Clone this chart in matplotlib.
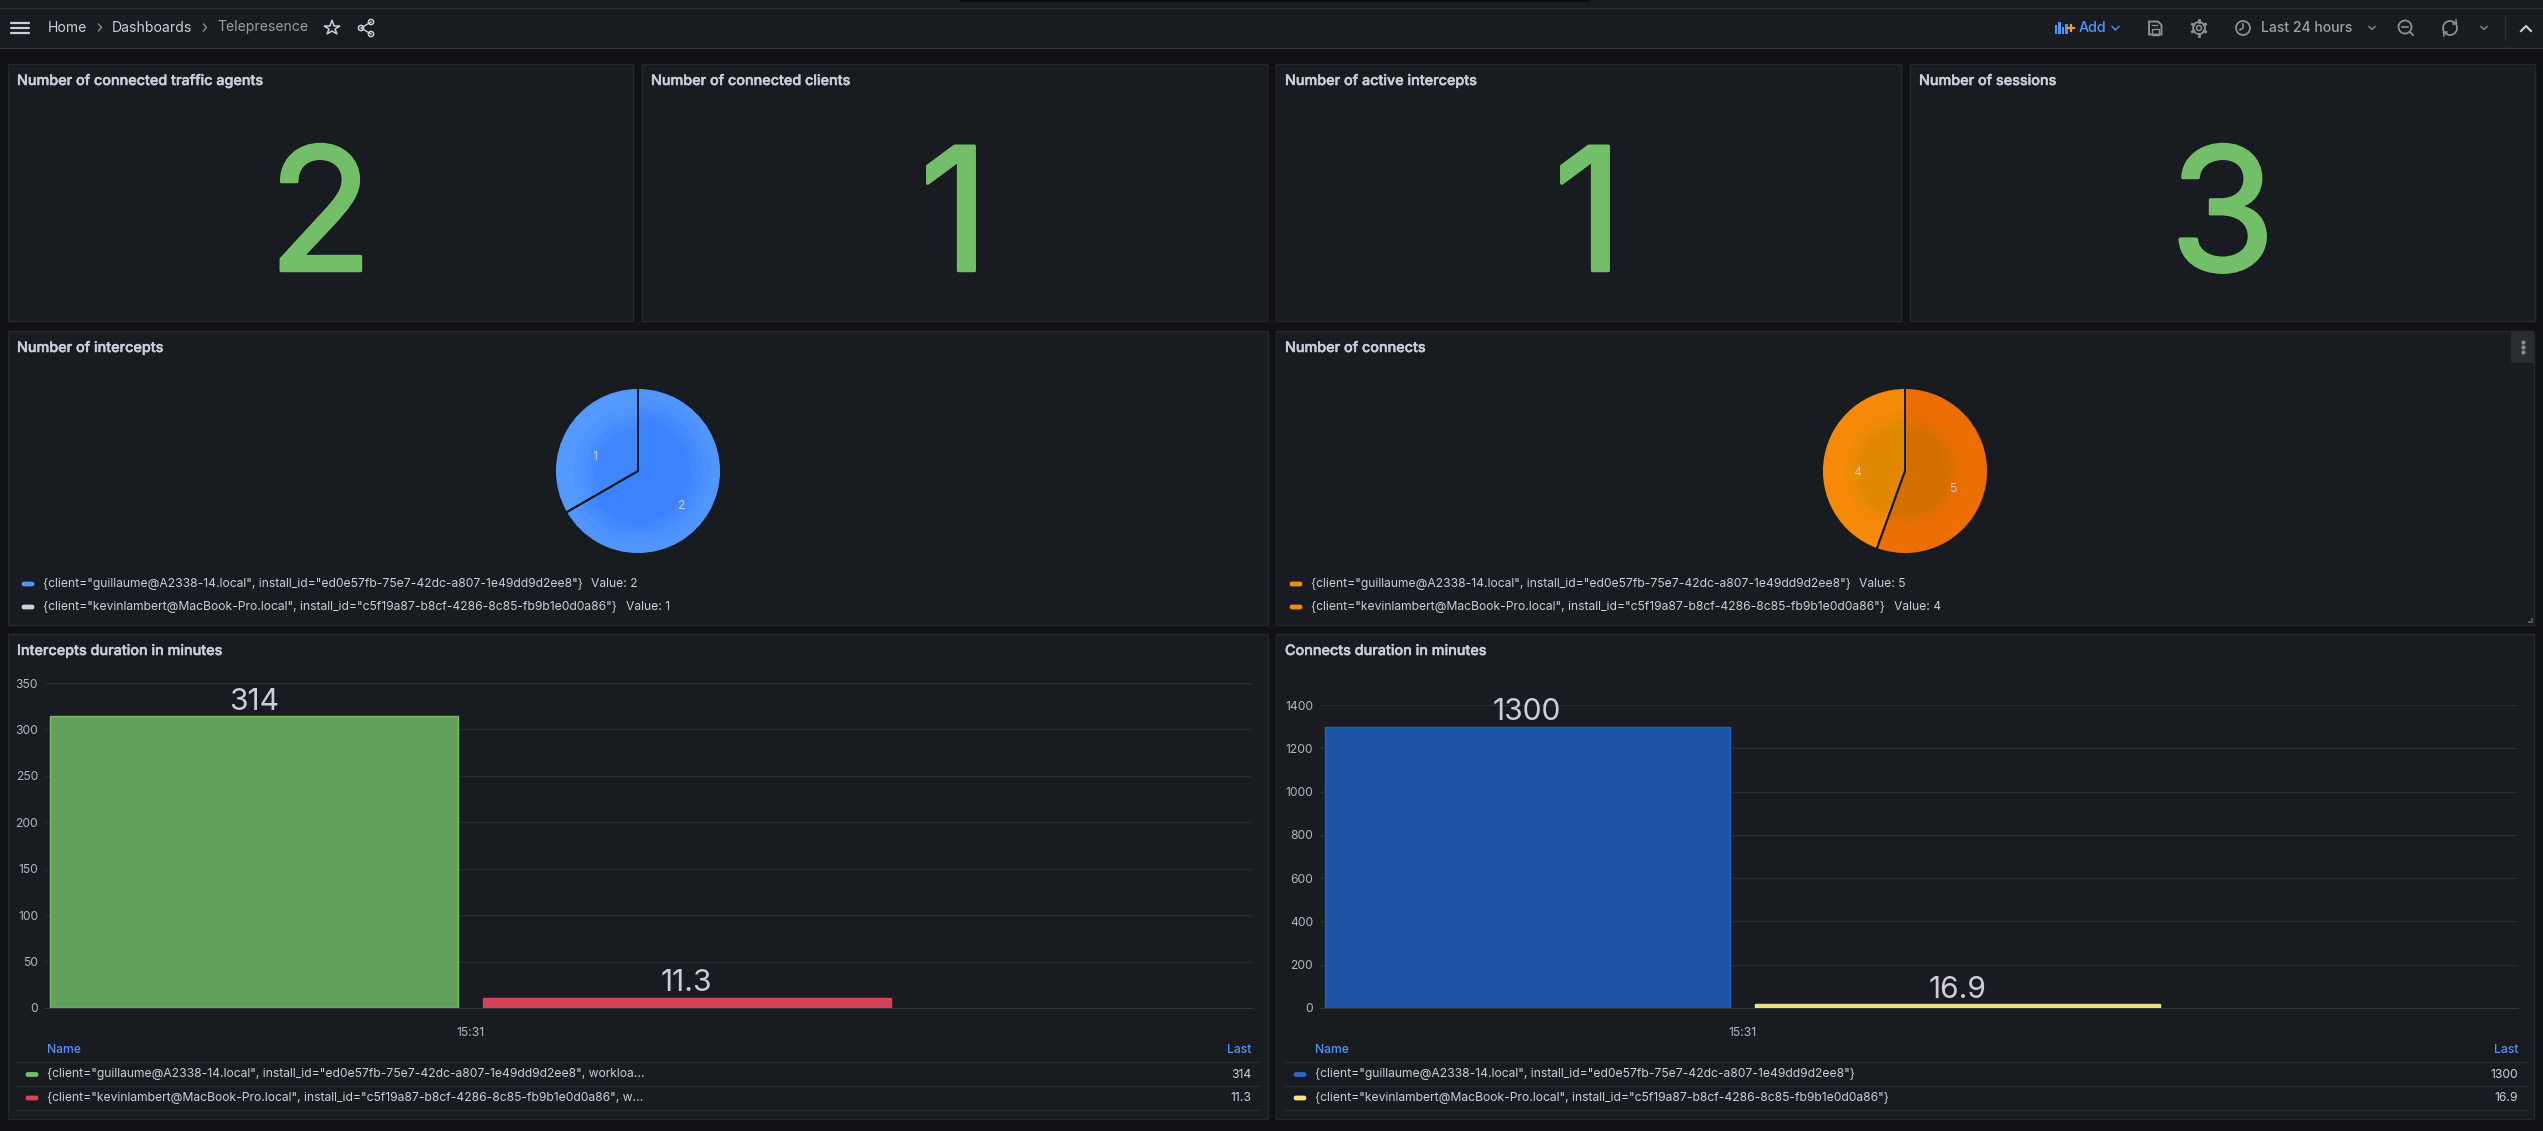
import numpy as np
import matplotlib
matplotlib.use("Agg")
import matplotlib.pyplot as plt
import matplotlib.patheffects as pe
from matplotlib.patches import Rectangle, FancyBboxPatch, Circle, Polygon, Arc

W, H = 2543, 1131
BG = "#111217"
PANEL = "#181B1F"
BORDER = "#25282E"
TEXT = "#CCCCDC"
DIM = "#B4B5C2"
GRID = "#282B31"
BLUE_TXT = "#4F94FF"
ICON = "#8E8F96"

plt.rcParams["font.family"] = ["Inter", "Noto Sans", "DejaVu Sans"]

# data
stat_titles = ["Number of connected traffic agents", "Number of connected clients",
               "Number of active intercepts", "Number of sessions"]
stat_values = [2, 1, 1, 3]

client_a = '{client="guillaume@A2338-14.local", install_id="ed0e57fb-75e7-42dc-a807-1e49dd9d2ee8"}'
client_b = '{client="kevinlambert@MacBook-Pro.local", install_id="c5f19a87-b8cf-4286-8c85-fb9b1e0d0a86"}'
client_a_wl = '{client="guillaume@A2338-14.local", install_id="ed0e57fb-75e7-42dc-a807-1e49dd9d2ee8", workloa...'
client_b_wl = '{client="kevinlambert@MacBook-Pro.local", install_id="c5f19a87-b8cf-4286-8c85-fb9b1e0d0a86", w...'

intercept_counts = [2, 1]
connect_counts = [5, 4]
intercept_minutes = [314, 11.3]
intercept_labels = ["314", "11.3"]
connect_minutes = [1300, 16.9]
connect_labels = ["1300", "16.9"]
intercept_ticks = [0, 50, 100, 150, 200, 250, 300, 350]
connect_ticks = [0, 200, 400, 600, 800, 1000, 1200, 1400]
time_label = "15:31"

fig = plt.figure(figsize=(W / 100, H / 100), dpi=100, facecolor=BG)

# overlay in pixel coords for the dashboard chrome
ui = fig.add_axes([0, 0, 1, 1], zorder=0)
ui.set_xlim(0, W); ui.set_ylim(H, 0); ui.axis("off")


def axes_px(x0, y0, x1, y1, zorder=2):
    return fig.add_axes([x0 / W, 1 - y1 / H, (x1 - x0) / W, (y1 - y0) / H], zorder=zorder)


def panel(x0, y0, x1, y1, title):
    ui.add_patch(Rectangle((x0, y0), x1 - x0, y1 - y0, fc=PANEL, ec=BORDER, lw=1))
    ui.text(x0 + 9, y0 + 17, title, color=TEXT, fontsize=10.35, weight="medium",
            ha="left", va="center",
            path_effects=[pe.withStroke(linewidth=0.35, foreground=TEXT)])


def swatch(x, y, color):
    ui.add_patch(FancyBboxPatch((x + 2, y - 1), 10, 2, boxstyle="round,pad=0,rounding_size=1",
                                fc=color, ec=color, lw=2))


# nav bar
ui.add_patch(Rectangle((0, 0), W, 48, fc=PANEL, ec="none"))
ui.add_patch(Rectangle((960, 0), 630, 2, fc="#0B0C0E", ec="none"))
ui.plot([0, W], [7.5, 7.5], color="#2A2D33", lw=1)
ui.plot([0, W], [48, 48], color="#34373D", lw=1)
for yy in (23, 28, 33):
    ui.plot([11, 29], [yy, yy], color=TEXT, lw=1.6, solid_capstyle="round")
nav_y = 27.5
ui.text(48, nav_y, "Home", color=TEXT, fontsize=10.1, va="center")
ui.text(112, nav_y, "Dashboards", color=TEXT, fontsize=10.1, va="center")
ui.text(217, nav_y, "Telepresence", color="#9A9BA5", fontsize=10.1, va="center")
for xx in (100, 205):
    ui.plot([xx - 1.5, xx + 1.5, xx - 1.5], [nav_y - 3.5, nav_y, nav_y + 3.5], color="#8E8F96", lw=1)
ui.plot([332], [28], marker="*", ms=11.5, mfc="none", mec=TEXT, mew=1.1)
# share icon
ui.plot([371, 361, 371], [22, 28, 34], color=TEXT, lw=1)
for cx, cy in ((371, 22), (361, 28), (371, 34)):
    ui.add_patch(Circle((cx, cy), 2.6, fc=PANEL, ec=TEXT, lw=1.1))

# right side of nav bar
for xx, hh in zip((2056, 2059.5, 2063, 2066.5), (9, 12, 7, 10)):
    ui.add_patch(Rectangle((xx - 1.2, 34 - hh), 2.4, hh, fc=BLUE_TXT, ec="none"))
ui.plot([2068, 2074], [28, 28], color="#FF9830", lw=1.6)
ui.plot([2071, 2071], [25, 31], color="#FF9830", lw=1.6)
ui.text(2079, nav_y, "Add", color=BLUE_TXT, fontsize=10.3, weight="medium", va="center")
ui.plot([2112, 2115.5, 2119], [26.5, 30, 26.5], color=BLUE_TXT, lw=1)
# save icon
ui.add_patch(Polygon([(2149, 21.5), (2158, 21.5), (2161.5, 25), (2161.5, 34.5), (2149, 34.5)],
                     closed=True, fc="none", ec=ICON, lw=1.4))
ui.add_patch(Rectangle((2152, 29), 6.5, 5.5, fc="none", ec=ICON, lw=1))
ui.plot([2152, 2157], [25, 25], color=ICON, lw=1)
# gear icon
ui.add_patch(Circle((2199, 28), 6, fc="none", ec=ICON, lw=1.3))
ui.add_patch(Circle((2199, 28), 2.5, fc="none", ec=ICON, lw=1.1))
for ang in np.deg2rad(np.arange(0, 360, 60) + 30):
    ui.plot([2199 + 6 * np.cos(ang), 2199 + 7.6 * np.cos(ang)],
            [28 + 6 * np.sin(ang), 28 + 7.6 * np.sin(ang)], color=ICON, lw=2)
# clock icon
ui.add_patch(Circle((2243, 28), 7, fc="none", ec=ICON, lw=1.3))
ui.plot([2243, 2243, 2240], [24, 28, 30], color=ICON, lw=1.2)
ui.text(2261, nav_y, "Last 24 hours", color="#9FA0AA", fontsize=10.1, weight="medium", va="center")
ui.plot([2369, 2372, 2375], [26.5, 29.5, 26.5], color=ICON, lw=1)
# zoom out icon
ui.add_patch(Circle((2405, 27), 6.5, fc="none", ec=ICON, lw=1.3))
ui.plot([2402, 2408], [27, 27], color=ICON, lw=1.2)
ui.plot([2410, 2413], [32, 35], color=ICON, lw=1.3)
# refresh icon, two arcs with little arrow heads
ui.add_patch(Arc((2450, 28), 14, 14, theta1=150, theta2=320, color=ICON, lw=1.3))
ui.add_patch(Arc((2450, 28), 14, 14, theta1=330, theta2=140, color=ICON, lw=1.3))
ui.plot([2456, 2456.5, 2453], [20, 24, 24], color=ICON, lw=1.1)
ui.plot([2444, 2443.5, 2447], [36, 32, 32], color=ICON, lw=1.1)
ui.plot([2481, 2484, 2487], [26.5, 29.5, 26.5], color=ICON, lw=1)
ui.plot([2505, 2505], [16, 39], color="#2F3238", lw=1)
ui.plot([2521, 2526, 2531], [31, 26, 31], color=TEXT, lw=1.5)

# stat panels
stat_x = [8, 642, 1276, 1910]
for x0, title, val in zip(stat_x, stat_titles, stat_values):
    panel(x0, 64, x0 + 625, 321, title)
    ui.text(x0 + 312.5, 208, str(val), color="#73BF69", fontsize=123, ha="center",
            va="center_baseline",
            path_effects=[pe.withStroke(linewidth=2.5, foreground="#73BF69")])

# pie panels
panel(8, 331, 1268, 625, "Number of intercepts")
panel(1276, 331, 2534, 625, "Number of connects")


def draw_pie(center_x, values, rings):
    r = 83
    ax = axes_px(center_x - r - 3, 471 - r - 3, center_x + r + 3, 471 + r + 3)
    for radius, cols in rings:
        ax.pie(values, colors=cols, radius=radius, startangle=90, counterclock=False,
               wedgeprops={"lw": 0})
    ax.pie(values, radius=1.0, startangle=90, counterclock=False,
           wedgeprops={"lw": 1.4, "edgecolor": PANEL, "fill": False})
    ax.set_xlim(-1.036, 1.036); ax.set_ylim(-1.036, 1.036)
    ax.axis("off")
    return ax


pax = draw_pie(638, intercept_counts,
               [(1.0, ["#5195FF", "#5399FF"]), (0.88, ["#4C91FF", "#5399FF"]),
                (0.78, ["#478CFF", "#5095FF"]), (0.70, ["#4287FF", "#4C91FF"]),
                (0.62, ["#3A82FF", "#468BFF"]), (0.52, ["#3A82FF", "#4086FF"])])
pax.text(0.52, -0.42, "2", color=TEXT, fontsize=8.7, ha="center", va="center")
pax.text(-0.52, 0.17, "1", color=TEXT, fontsize=8.7, ha="center", va="center")
pax = draw_pie(1905, connect_counts,
               [(1.0, ["#EC6E00", "#F68A08"]), (0.72, ["#E76E00", "#EF8A05"]),
                (0.62, ["#E06F00", "#E98903"]), (0.55, ["#D37000", "#E08800"])])
pax.text(0.58, -0.22, "5", color=TEXT, fontsize=8.7, ha="center", va="center")
pax.text(-0.58, -0.02, "4", color=TEXT, fontsize=8.7, ha="center", va="center")

for x0, cols, vals in ((8, ["#5495FF", "#CCD0DF"], intercept_counts),
                       (1276, ["#F58B0C", "#F58B0C"], connect_counts)):
    swatch(x0 + 13, 584, cols[0])
    swatch(x0 + 13, 607, cols[1])
    ui.text(x0 + 35, 584, client_a, color=TEXT, fontsize=8.72, va="center")
    ui.text(x0 + 35, 607, client_b, color=TEXT, fontsize=8.72, va="center")
    ui.text(x0 + 583, 584, f"Value: {vals[0]}", color=TEXT, fontsize=8.72, va="center")
    ui.text(x0 + 618, 607, f"Value: {vals[1]}", color=TEXT, fontsize=8.72, va="center")

# hover menu button and resize grip on the connects panel
ui.add_patch(FancyBboxPatch((2511, 331), 23, 32, boxstyle="round,pad=0,rounding_size=2",
                            fc="#2A2D30", ec="none"))
ui.plot([2523] * 3, [342, 347, 352], ls="none", marker="o", ms=2, color="#8A8B92")
ui.add_patch(Polygon([(2533, 618), (2533, 623), (2528, 623), (2528, 621), (2531, 621), (2531, 618)],
                     closed=True, fc="#55575C", ec="none"))

# bar panels
panel(8, 634, 1268, 1119, "Intercepts duration in minutes")
panel(1276, 634, 2534, 1119, "Connects duration in minutes")


def bar_chart(box, values, labels, ticks, ymax, xlim, width, fills, edges):
    ax = axes_px(*box)
    ax.set_facecolor("none")
    ax.set_xlim(*xlim); ax.set_ylim(0, ymax)
    ax.bar([0, 1], values, width=width, color=fills, edgecolor=edges, lw=1, zorder=3)
    for xv, yv, lab in zip([0, 1], values, labels):
        ax.text(xv, yv + ymax * 0.002, lab, color=TEXT, fontsize=21.6, ha="center", va="bottom", zorder=4)
    for s in ("top", "right", "left"):
        ax.spines[s].set_visible(False)
    ax.spines["bottom"].set_color("#33363C")
    ax.set_yticks(ticks)
    ax.set_xticks([0.5]); ax.set_xticklabels([time_label])
    ax.tick_params(axis="y", length=0, pad=5, labelsize=8.7, labelcolor=DIM)
    ax.tick_params(axis="x", length=0, pad=14, labelsize=8.7, labelcolor=DIM)
    ax.grid(axis="y", color=GRID, lw=1, zorder=0)
    ax.set_axisbelow(True)
    return ax


bar_chart((45, 683, 1252, 1008), intercept_minutes, intercept_labels, intercept_ticks, 350,
          (-0.483, 2.307), 0.943, ["#629F5B", "#D4435A"], ["#73BF69", "#D4435A"])
bar_chart((1320, 705, 2518, 1008), connect_minutes, connect_labels, connect_ticks, 1400,
          (-0.481, 2.302), 0.941, ["#1E54A6", "#E8E184"], ["#1F60C4", "#E8E184"])


def legend_table(x0, x1, name_x, names, colors, lasts):
    ui.text(name_x, 1050, "Name", color=BLUE_TXT, fontsize=8.7, weight="medium", va="center")
    ui.text(x1 - 8, 1050, "Last", color=BLUE_TXT, fontsize=8.7, weight="medium", va="center", ha="right")
    for yy in (1062, 1086, 1110):
        ui.plot([x0, x1], [yy, yy], color="#2A2D33", lw=1)
    for yy, nm, col, last in zip((1074.5, 1098), names, colors, lasts):
        swatch(x0 + 8, yy, col)
        ui.text(name_x, yy, nm, color=TEXT, fontsize=8.72, va="center")
        ui.text(x1 - 8, yy, last, color=TEXT, fontsize=8.72, va="center", ha="right")


legend_table(17, 1259, 47, [client_a_wl, client_b_wl], ["#73BF69", "#D4435A"], intercept_labels)
legend_table(1285, 2526, 1315, [client_a, client_b], ["#2F66C4", "#F2E88A"], connect_labels)

fig.savefig("out.png", dpi=100, facecolor=BG)
